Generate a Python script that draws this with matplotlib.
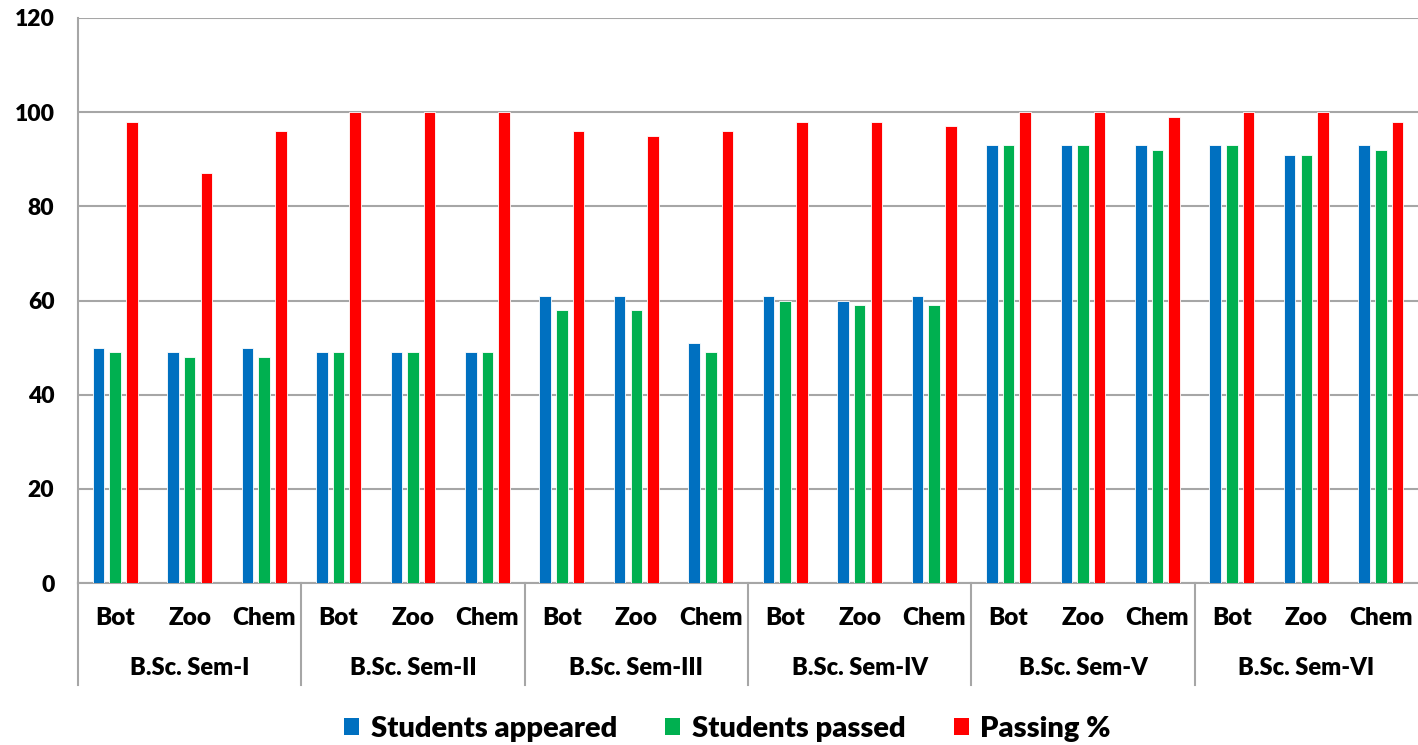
import matplotlib.pyplot as plt
import matplotlib.transforms as mtransforms
from matplotlib.patches import Patch

plt.rcParams['font.family'] = ['Lato', 'DejaVu Sans']
plt.rcParams['font.weight'] = 'heavy'

semesters = ["B.Sc. Sem-I", "B.Sc. Sem-II", "B.Sc. Sem-III",
             "B.Sc. Sem-IV", "B.Sc. Sem-V", "B.Sc. Sem-VI"]
subjects = ["Bot", "Zoo", "Chem"]

appeared = [50, 49, 50, 49, 49, 49, 61, 61, 51, 61, 60, 61, 93, 93, 93, 93, 91, 93]
passed = [49, 48, 48, 49, 49, 49, 58, 58, 49, 60, 59, 59, 93, 93, 92, 93, 91, 92]
passing_pct = [98, 87, 96, 100, 100, 100, 96, 95, 96, 98, 98, 97, 100, 100, 99, 100, 100, 98]

series_names = ["Students appeared", "Students passed", "Passing %"]
colors = ["#0070C0", "#00B050", "#FF0000"]

fig = plt.figure(figsize=(14.18, 7.45), dpi=100)
ax = fig.add_axes([78 / 1418, 1 - 583 / 745, 1 - 78 / 1418, 565 / 745])

n = len(appeared)
x = list(range(n))
offset = 0.224
width = 0.155
for k, vals in enumerate([appeared, passed, passing_pct]):
    ax.bar([i + (k - 1) * offset for i in x], vals, width=width,
           color=colors[k], edgecolor="white", linewidth=0.6, zorder=3)

ax.set_xlim(-0.5, n - 0.5)
ax.set_ylim(0, 120)
ax.set_yticks(range(0, 121, 20))
ax.yaxis.grid(True, color="#A6A6A6", linewidth=1.5, zorder=0)
ax.tick_params(axis="y", length=0, pad=17, labelsize=16.5)
ax.tick_params(axis="x", length=0)
ax.set_xticks(x)
ax.set_xticklabels([])

for s in ["top", "right"]:
    ax.spines[s].set_visible(False)
for s in ["left", "bottom"]:
    ax.spines[s].set_color("#A6A6A6")
    ax.spines[s].set_linewidth(1.5)

# two-level category axis: subjects, then semesters
trans = mtransforms.blended_transform_factory(ax.transData, ax.transAxes)
h = 565.0
for i in x:
    ax.text(i, -35 / h, subjects[i % 3], transform=trans, ha="center",
            va="center", fontsize=17.5, fontweight="heavy")
for g, name in enumerate(semesters):
    ax.text(g * 3 + 1, -85 / h, name, transform=trans, ha="center",
            va="center", fontsize=17, fontweight="heavy")
for g in range(len(semesters)):
    xb = g * 3 - 0.5
    ax.plot([xb, xb], [0, -102 / h], transform=trans, color="#A6A6A6",
            linewidth=1.5, clip_on=False)

handles = [Patch(facecolor=c, edgecolor="none") for c in colors]
fig.legend(handles, series_names, loc="center", bbox_to_anchor=(0.513, 0.022),
           ncol=3, frameon=False, handlelength=0.52,
           handleheight=0.55, handletextpad=0.4, columnspacing=1.65,
           prop={"weight": "heavy", "size": 21})

fig.savefig("out.png", dpi=100)
